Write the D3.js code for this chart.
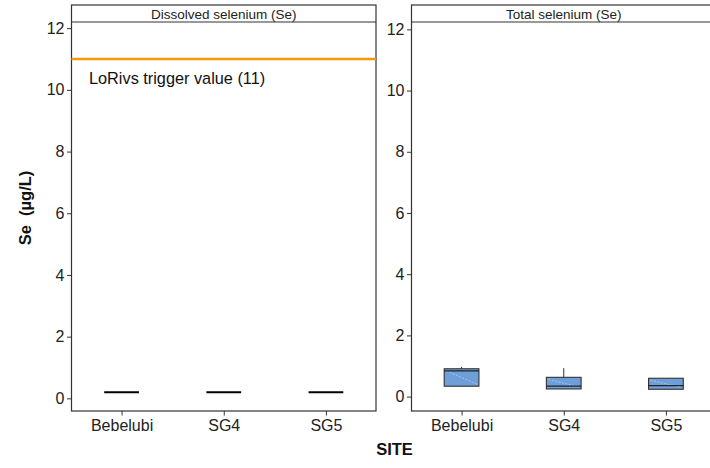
<!DOCTYPE html>
<html>
<head>
<meta charset="utf-8">
<script src="https://cdn.jsdelivr.net/npm/d3@7/dist/d3.min.js"></script>
<style>
  html, body { margin: 0; padding: 0; background: #fff; }
  svg { display: block; font-family: "Liberation Sans", Arial, Helvetica, sans-serif; }
</style>
</head>
<body>
<svg id="chart" width="710" height="468"></svg>
<script>
// Sampling sites along the x axis
const sites = ["Bebelubi", "SG4", "SG5"];

// Dissolved selenium (µg/L): box statistics per site [min, q1, median, q3, max]
const dissolvedMin    = [0.2, 0.2, 0.2];
const dissolvedQ1     = [0.2, 0.2, 0.2];
const dissolvedMedian = [0.2, 0.2, 0.2];
const dissolvedQ3     = [0.2, 0.2, 0.2];
const dissolvedMax    = [0.2, 0.2, 0.2];

// Total selenium (µg/L): box statistics per site
const totalMin    = [0.34, 0.25, 0.24];
const totalQ1     = [0.34, 0.25, 0.24];
const totalMedian = [0.84, 0.34, 0.36];
const totalQ3     = [0.91, 0.63, 0.60];
const totalMax    = [0.97, 0.93, 0.60];

// Guideline drawn on the dissolved panel
const triggerValue = 11;
const triggerLabel = "LoRivs trigger value (11)";

// Y axis ticks and panel titles
const yTicks = [0, 2, 4, 6, 8, 10, 12];
const panelTitles = ["Dissolved selenium (Se)", "Total selenium (Se)"];

const svg = d3.select("#chart");

const panelTop = 5, stripH = 17, panelBottom = 411;
const panels = [
  {
    title: panelTitles[0], x0: 71.5, x1: 376, yDomain: [-0.41, 12.2],
    stats: sites.map((s, i) => ({ site: s, min: dissolvedMin[i], q1: dissolvedQ1[i], med: dissolvedMedian[i], q3: dissolvedQ3[i], max: dissolvedMax[i] })),
    trigger: true
  },
  {
    title: panelTitles[1], x0: 411.5, x1: 716, yDomain: [-0.47, 12.24],
    stats: sites.map((s, i) => ({ site: s, min: totalMin[i], q1: totalQ1[i], med: totalMedian[i], q3: totalQ3[i], max: totalMax[i] })),
    trigger: false
  }
];

const frameColor = "#333";
const boxFill = "#6f9fd8";

panels.forEach(p => {
  const x = d3.scalePoint().domain(sites).range([p.x0, p.x1]).padding(0.49);
  const y = d3.scaleLinear().domain(p.yDomain).range([panelBottom, panelTop + stripH]);
  const g = svg.append("g");
  const boxW = x.step() * 0.34;

  // panel frame and strip
  g.append("rect")
    .attr("x", p.x0).attr("y", panelTop)
    .attr("width", p.x1 - p.x0).attr("height", panelBottom - panelTop)
    .attr("fill", "none").attr("stroke", frameColor).attr("stroke-width", 1.2);
  g.append("line")
    .attr("x1", p.x0).attr("x2", p.x1)
    .attr("y1", panelTop + stripH).attr("y2", panelTop + stripH)
    .attr("stroke", frameColor).attr("stroke-width", 1.2);
  g.append("text")
    .attr("x", (p.x0 + p.x1) / 2)
    .attr("y", panelTop + stripH - 3.5)
    .attr("text-anchor", "middle")
    .attr("font-size", 13.5).attr("fill", "#222")
    .text(p.title);

  // y axis
  const yAxis = d3.axisLeft(y).tickValues(yTicks).tickSize(4.5).tickPadding(2.5).tickFormat(d3.format("d"));
  const ya = g.append("g").attr("transform", `translate(${p.x0},0)`).call(yAxis);
  ya.select(".domain").remove();
  ya.selectAll(".tick line").attr("stroke", frameColor);
  ya.selectAll(".tick text").attr("font-size", 16).attr("fill", "#222").attr("font-family", "Liberation Sans, Arial, sans-serif");

  // x axis
  const xAxis = d3.axisBottom(x).tickSize(4.5).tickPadding(4);
  const xa = g.append("g").attr("transform", `translate(0,${panelBottom})`).call(xAxis);
  xa.select(".domain").remove();
  xa.selectAll(".tick line").attr("stroke", frameColor);
  xa.selectAll(".tick text").attr("font-size", 16).attr("fill", "#222").attr("font-family", "Liberation Sans, Arial, sans-serif");

  // trigger value guideline
  if (p.trigger) {
    g.append("line")
      .attr("x1", p.x0).attr("x2", p.x1)
      .attr("y1", y(triggerValue)).attr("y2", y(triggerValue))
      .attr("stroke", "#f39a0b").attr("stroke-width", 2.6);
    g.append("text")
      .attr("x", p.x0 + 17.5).attr("y", y(triggerValue) + 24.5)
      .attr("font-size", 16.3).attr("fill", "#111")
      .text(triggerLabel);
  }

  // box plots
  p.stats.forEach(d => {
    const cx = x(d.site);
    const bg = g.append("g");
    if (d.q3 - d.q1 < 1e-9) {
      // collapsed box: a single median bar
      bg.append("line")
        .attr("x1", cx - boxW / 2).attr("x2", cx + boxW / 2)
        .attr("y1", y(d.med)).attr("y2", y(d.med))
        .attr("stroke", "#000").attr("stroke-width", 2);
      return;
    }
    // whiskers
    bg.append("line")
      .attr("x1", cx).attr("x2", cx)
      .attr("y1", y(d.q3)).attr("y2", y(d.max))
      .attr("stroke", "#333").attr("stroke-width", 1);
    bg.append("line")
      .attr("x1", cx).attr("x2", cx)
      .attr("y1", y(d.q1)).attr("y2", y(d.min))
      .attr("stroke", "#333").attr("stroke-width", 1);
    // box
    bg.append("rect")
      .attr("x", cx - boxW / 2).attr("y", y(d.q3))
      .attr("width", boxW).attr("height", y(d.q1) - y(d.q3))
      .attr("fill", boxFill).attr("stroke", "#333").attr("stroke-width", 1.1);
    // faint diagonal sheen across the box
    bg.append("line")
      .attr("x1", cx - boxW / 2 + 2).attr("y1", y(d.q3) + 2)
      .attr("x2", cx + boxW / 2 - 2).attr("y2", y(d.q1) - 2)
      .attr("stroke", "#c8dcf3").attr("stroke-width", 0.8).attr("stroke-dasharray", "2,1.5").attr("opacity", 0.8);
    // median
    bg.append("line")
      .attr("x1", cx - boxW / 2).attr("x2", cx + boxW / 2)
      .attr("y1", y(d.med)).attr("y2", y(d.med))
      .attr("stroke", "#222").attr("stroke-width", 1.3);
  });
});

// axis titles
svg.append("text")
  .attr("transform", "translate(30.5,208) rotate(-90)")
  .attr("text-anchor", "middle")
  .attr("font-size", 16.5).attr("font-weight", "bold").attr("fill", "#111")
  .attr("xml:space", "preserve")
  .text("Se  (µg/L)");

svg.append("text")
  .attr("x", 394.5).attr("y", 455)
  .attr("text-anchor", "middle")
  .attr("font-size", 16.5).attr("font-weight", "bold").attr("fill", "#111")
  .text("SITE");
</script>
</body>
</html>
